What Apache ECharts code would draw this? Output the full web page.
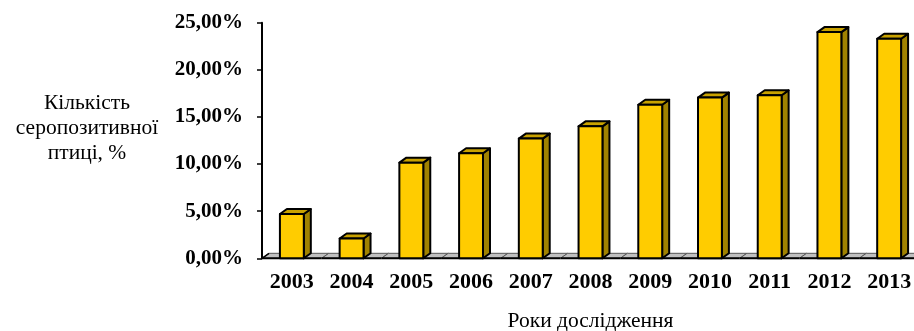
<!DOCTYPE html>
<html>
<head>
<meta charset="utf-8">
<script src="https://cdn.jsdelivr.net/npm/echarts@6/dist/echarts.min.js"></script>
<style>
  html, body { margin: 0; padding: 0; background: #fff; }
  #chart { width: 914px; height: 331px; }
</style>
</head>
<body>
<div id="chart"></div>
<script>
// роки дослідження
const years = ['2003', '2004', '2005', '2006', '2007', '2008', '2009', '2010', '2011', '2012', '2013']
// кількість серопозитивної птиці, %
const positive = [4.7, 2.1, 10.15, 11.15, 12.7, 14.0, 16.3, 17.05, 17.3, 24.0, 23.3]
const yTicks = { min: 0, max: 25, interval: 5 }

const DX = 7   // глибина 3D по x
const DY = 5   // глибина 3D по y
const font = 'Liberation Serif'

const chart = echarts.init(document.getElementById('chart'))

// підлога під стовпчиками
function renderFloor(params, api) {
  const c = api.coord([api.value(0), 0])
  const half = api.size([1, 0])[0] / 2
  const y = c[1]
  const l = c[0] - half
  const r = c[0] + half
  const children = [
    {
      type: 'polygon',
      shape: { points: [[l, y], [r, y], [r + DX, y - DY], [l + DX, y - DY]] },
      style: { fill: '#c0c0c0', stroke: '#555', lineWidth: 1 },
    },
    {
      type: 'line',
      shape: { x1: l, y1: y, x2: r, y2: y },
      style: { stroke: '#000', lineWidth: 2 },
    },
  ]
  if (params.dataIndex === 0) {
    children.push({
      type: 'line',
      shape: { x1: l, y1: y, x2: l + DX, y2: y - DY },
      style: { stroke: '#000', lineWidth: 1.5 },
    })
  }
  return { type: 'group', children }
}

// 3D стовпчик
function renderBar(params, api) {
  const top = api.coord([api.value(0), api.value(1)])
  const base = api.coord([api.value(0), 0])
  const w = api.size([1, 0])[0] * 0.4
  const l = top[0] - w / 2
  const r = top[0] + w / 2
  const t = top[1]
  const b = base[1]
  const line = { stroke: '#000', lineWidth: 2, lineJoin: 'round' }
  return {
    type: 'group',
    children: [
      {
        type: 'polygon',
        shape: { points: [[r, b], [r, t], [r + DX, t - DY], [r + DX, b - DY]] },
        style: Object.assign({ fill: '#a08200' }, line),
      },
      {
        type: 'polygon',
        shape: { points: [[l, t], [r, t], [r + DX, t - DY], [l + DX, t - DY]] },
        style: Object.assign({ fill: '#c9a200' }, line),
      },
      {
        type: 'rect',
        shape: { x: l, y: t, width: w, height: b - t },
        style: Object.assign({ fill: '#ffcc00' }, line),
      },
    ],
  }
}

const option = {
  animation: false,
  grid: {
    left: 262,
    right: -5,
    top: 22.7,
    bottom: 72.7,
    containLabel: false,
    outerBoundsMode: 'none',
  },
  xAxis: {
    type: 'category',
    data: years,
    name: 'Роки дослідження',
    nameLocation: 'middle',
    nameGap: 63,
    nameTextStyle: {
      fontFamily: font,
      fontSize: 21.5,
      color: '#000',
      verticalAlign: 'middle',
    },
    axisLine: { show: false },
    axisTick: { show: false },
    axisLabel: {
      margin: 13,
      fontFamily: font,
      fontSize: 22,
      fontWeight: 'bold',
      color: '#000',
    },
  },
  yAxis: {
    type: 'value',
    min: yTicks.min,
    max: yTicks.max,
    interval: yTicks.interval,
    // порожній рядок у кінці піднімає підпис вгору
    name: 'Кількість\nсеропозитивної\nптиці, %\n ',
    nameLocation: 'middle',
    nameGap: 175,
    nameRotate: 0,
    nameTextStyle: {
      fontFamily: font,
      fontSize: 21.5,
      lineHeight: 25,
      color: '#000',
      align: 'center',
      verticalAlign: 'middle',
    },
    splitLine: { show: false },
    axisLine: { show: true, lineStyle: { color: '#000', width: 2 } },
    axisTick: { show: true, length: 5, lineStyle: { color: '#000', width: 1.5 } },
    axisLabel: {
      margin: 19,
      fontFamily: font,
      fontSize: 21,
      fontWeight: 'bold',
      color: '#000',
      formatter: function (v) {
        return v.toFixed(2).replace('.', ',') + '%'
      },
    },
  },
  series: [
    {
      type: 'custom',
      z: 1,
      clip: false,
      renderItem: renderFloor,
      data: years.map((y, i) => [i, 0]),
      encode: { x: 0, y: 1 },
      silent: true,
    },
    {
      type: 'custom',
      z: 3,
      clip: false,
      renderItem: renderBar,
      data: positive.map((v, i) => [i, v]),
      encode: { x: 0, y: 1 },
    },
  ],
}

chart.setOption(option)
</script>
</body>
</html>
